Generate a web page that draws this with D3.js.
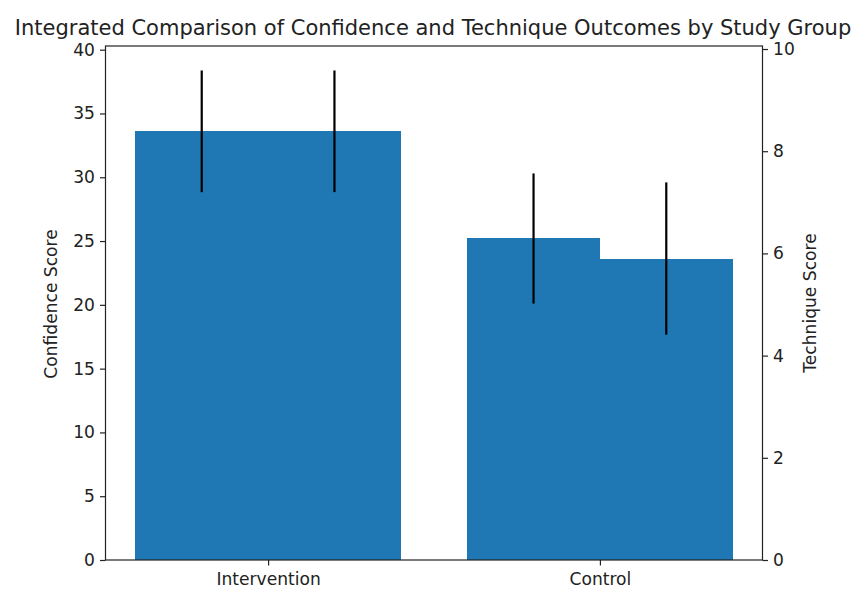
<!DOCTYPE html>
<html>
<head>
<meta charset="utf-8">
<script src="https://cdn.jsdelivr.net/npm/d3@7"></script>
<style>
  html, body { margin: 0; padding: 0; background: #fff; }
  svg { display: block; font-family: "DejaVu Sans", sans-serif; }
</style>
</head>
<body>
<svg id="chart" width="857" height="589"></svg>
<script>
// Study groups and measured outcomes (mean ± std)
const groups = ["Intervention", "Control"];
const confidenceMean = [33.6, 25.2];
const confidenceErr = [4.77, 5.1];
const techniqueMean = [8.39, 5.9];
const techniqueErr = [1.19, 1.49];
const confidenceTicks = [0, 5, 10, 15, 20, 25, 30, 35, 40];
const techniqueTicks = [0, 2, 4, 6, 8, 10];

const barColor = "#1f77b4";
const barWidth = 0.4;
const tickFont = "17.1px";

const svg = d3.select("#chart");
const plotLeft = 105.5, plotRight = 762.5, plotTop = 46, plotBottom = 560;

// Category axis: positions 0..n-1 with 5% padding around the outermost bars
const xMin = -barWidth, xMax = groups.length - 1 + barWidth;
const xPad = (xMax - xMin) * 0.05;
const x = d3.scaleLinear().domain([xMin - xPad, xMax + xPad]).range([plotLeft, plotRight]);

const yLeftMax = d3.max(confidenceMean.map((m, i) => m + confidenceErr[i])) * 1.05;
const yRightMax = d3.max(techniqueMean.map((m, i) => m + techniqueErr[i])) * 1.05;
const yL = d3.scaleLinear().domain([0, yLeftMax]).range([plotBottom, plotTop]);
const yR = d3.scaleLinear().domain([0, yRightMax]).range([plotBottom, plotTop]);

// Confidence bars (left axis), offset to the left of each group centre
svg.append("g").attr("shape-rendering", "crispEdges").selectAll("rect")
  .data(groups)
  .join("rect")
  .attr("x", (d, i) => x(i - barWidth))
  .attr("width", (d, i) => x(i) - x(i - barWidth) + 0.5)
  .attr("y", (d, i) => yL(confidenceMean[i]))
  .attr("height", (d, i) => yL(0) - yL(confidenceMean[i]))
  .attr("fill", barColor);

// Technique bars (right axis), offset to the right
svg.append("g").attr("shape-rendering", "crispEdges").selectAll("rect")
  .data(groups)
  .join("rect")
  .attr("x", (d, i) => x(i))
  .attr("width", (d, i) => x(i + barWidth) - x(i))
  .attr("y", (d, i) => yR(techniqueMean[i]))
  .attr("height", (d, i) => yR(0) - yR(techniqueMean[i]))
  .attr("fill", barColor);

// Error bars
svg.append("g").selectAll("line")
  .data(groups)
  .join("line")
  .attr("x1", (d, i) => x(i - barWidth / 2))
  .attr("x2", (d, i) => x(i - barWidth / 2))
  .attr("y1", (d, i) => yL(confidenceMean[i] - confidenceErr[i]))
  .attr("y2", (d, i) => yL(confidenceMean[i] + confidenceErr[i]))
  .attr("stroke", "#000").attr("stroke-width", 2.2);

svg.append("g").selectAll("line")
  .data(groups)
  .join("line")
  .attr("x1", (d, i) => x(i + barWidth / 2))
  .attr("x2", (d, i) => x(i + barWidth / 2))
  .attr("y1", (d, i) => yR(techniqueMean[i] - techniqueErr[i]))
  .attr("y2", (d, i) => yR(techniqueMean[i] + techniqueErr[i]))
  .attr("stroke", "#000").attr("stroke-width", 2.2);

// Frame
svg.append("rect")
  .attr("x", plotLeft).attr("y", plotTop)
  .attr("width", plotRight - plotLeft).attr("height", plotBottom - plotTop)
  .attr("fill", "none").attr("stroke", "#222").attr("stroke-width", 1.2);

function styleAxis(g) {
  g.select(".domain").remove();
  g.selectAll(".tick line").attr("stroke", "#222").attr("stroke-width", 1.2);
  g.selectAll(".tick text").attr("fill", "#222").style("font-size", tickFont)
    .style("font-family", "DejaVu Sans, sans-serif");
}

svg.append("g")
  .attr("transform", `translate(${plotLeft},0)`)
  .call(d3.axisLeft(yL).tickValues(confidenceTicks).tickSize(5.5).tickPadding(5))
  .call(styleAxis);

svg.append("g")
  .attr("transform", `translate(${plotRight},0)`)
  .call(d3.axisRight(yR).tickValues(techniqueTicks).tickSize(5.5).tickPadding(5))
  .call(styleAxis);

svg.append("g")
  .attr("transform", `translate(0,${plotBottom})`)
  .call(d3.axisBottom(x).tickValues(d3.range(groups.length)).tickFormat(i => groups[i])
    .tickSize(5.5).tickPadding(7))
  .call(styleAxis);

// Axis titles
svg.append("text")
  .attr("transform", `translate(57,${(plotTop + plotBottom) / 2 + 1}) rotate(-90)`)
  .attr("text-anchor", "middle")
  .attr("fill", "#222")
  .style("font-size", tickFont)
  .text("Confidence Score");

svg.append("text")
  .attr("transform", `translate(816,${(plotTop + plotBottom) / 2}) rotate(-90)`)
  .attr("text-anchor", "middle")
  .attr("fill", "#222")
  .style("font-size", tickFont)
  .text("Technique Score");

// Title
svg.append("text")
  .attr("x", (plotLeft + plotRight) / 2 - 1)
  .attr("y", 35)
  .attr("text-anchor", "middle")
  .attr("fill", "#222")
  .style("font-size", "21px")
  .text("Integrated Comparison of Confidence and Technique Outcomes by Study Group");
</script>
</body>
</html>
